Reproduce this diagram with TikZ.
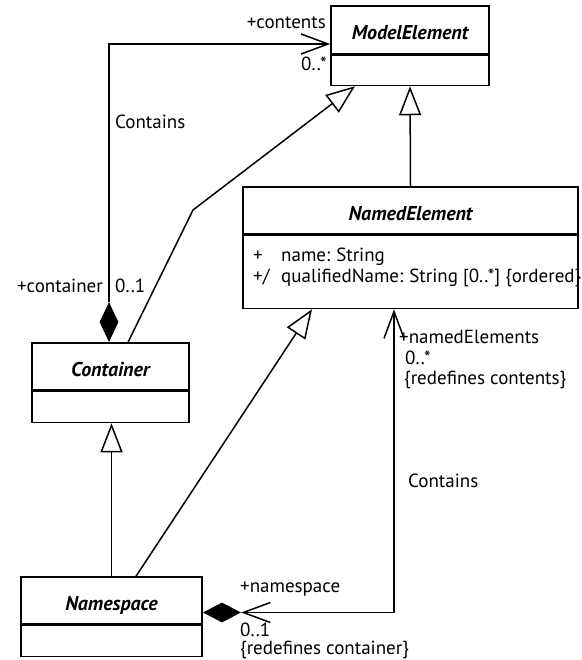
\documentclass[tikz,border=0pt]{standalone}
\usepackage{fontspec}
\setmainfont{PT Sans}
\usetikzlibrary{arrows.meta,shapes.geometric}

\tikzset{
  lbl/.style={font=\fontsize{19}{21}\selectfont, inner sep=0pt},
  clsname/.style={draw, line width=1.5pt, inner sep=0pt,
    text height=21pt, text depth=1pt,
    font=\fontsize{20}{22}\selectfont\bfseries\itshape},
  clsattr/.style={draw, line width=1.5pt, inner sep=0pt},
  compdia/.style={diamond, fill=black, draw=none, inner sep=0pt},
  assoc/.style={line width=1.5pt},
  navend/.tip={Straight Barb[length=27pt, width=20pt, line width=1.5pt]},
  gen/.style={line width=1.5pt, -{Triangle[open, length=29pt, width=22pt, line width=1.5pt]}},
}

\begin{document}
\begin{tikzpicture}[x=1pt, y=-1pt]
  \useasboundingbox (0,0) rectangle (581,660);

  % classes: name compartment + attribute compartment
  \node[clsname, minimum width=158pt, minimum height=48pt] (me) at (410,30) {ModelElement};
  \node[clsattr, minimum width=158pt, minimum height=30pt, anchor=north] (me-a) at (me.south) {};

  \node[clsname, minimum width=335pt, minimum height=47pt] (ne) at (410.5,210.5) {NamedElement};
  \node[clsattr, minimum width=335pt, minimum height=73pt, anchor=north] (ne-a) at (ne.south) {};

  \node[clsname, minimum width=157pt, minimum height=47pt] (ct) at (110.5,366.5) {Container};
  \node[clsattr, minimum width=157pt, minimum height=31pt, anchor=north] (ct-a) at (ct.south) {};

  \node[clsname, minimum width=181pt, minimum height=47pt] (ns) at (111.5,600.5) {Namespace};
  \node[clsattr, minimum width=181pt, minimum height=31pt, anchor=north] (ns-a) at (ns.south) {};

  % attributes of NamedElement
  \node[lbl, anchor=base west] (attr1) at (253,261) {\makebox[28pt][l]{+}name:\hspace{6pt}String};
  \node[lbl, anchor=base west] (attr2) at (253,282) {\makebox[28pt][l]{+/}qualifiedName:\hspace{6pt}String [0..*] \{ordered\}};

  % composition diamonds
  \node[compdia, minimum width=19pt, minimum height=40pt, anchor=south] (cd) at ([xshift=-1.5pt]ct.north) {};
  \node[compdia, minimum width=38pt, minimum height=20pt, anchor=west] (nd) at ([yshift=-12pt]ns.east) {};

  % Contains: Container -> ModelElement
  \draw[assoc, -{navend}] (cd.north) |- ([yshift=-14pt]me.west);

  % generalizations
  \coordinate (bend1) at (193,210);
  \draw[gen] ([xshift=17.5pt]ct.north) -- (bend1) -- ([xshift=-55pt]me-a.south);
  \draw[gen] (ne.north) -- (me-a.south);
  \draw[gen] (ns.north) -- (ns.north |- ct-a.south);
  \draw[gen] ([xshift=24.5pt]ns.north) -- ([xshift=-98.5pt]ne-a.south);

  % Contains: Namespace -> NamedElement
  \draw[assoc, {navend}-{navend}] (nd.east) -| ([xshift=-16.5pt]ne-a.south);

  % association end labels
  \node[lbl, anchor=base east] (l-contents) at (326,29) {+contents};
  \node[lbl, anchor=base east] (l-mult1) at (327,71) {0..*};
  \node[lbl, anchor=base west] (l-contains1) at (115,129) {Contains};
  \node[lbl, anchor=base east] (l-container) at (103,292) {+container};
  \node[lbl, anchor=base west] (l-mult2) at (115,292) {0..1};

  \node[lbl, anchor=base west] (l-named) at (399,343) {+namedElements};
  \node[lbl, anchor=base west] (l-mult3) at (405,364) {0..*};
  \node[lbl, anchor=base west] (l-redef1) at (404,384) {\{redefines contents\}};
  \node[lbl, anchor=base west] (l-contains2) at (408,487) {Contains};

  \node[lbl, anchor=base west] (l-namespace) at (240,592) {+namespace};
  \node[lbl, anchor=base west] (l-mult4) at (240,636) {0..1};
  \node[lbl, anchor=base west] (l-redef2) at (240,654) {\{redefines container\}};
\end{tikzpicture}
\end{document}
